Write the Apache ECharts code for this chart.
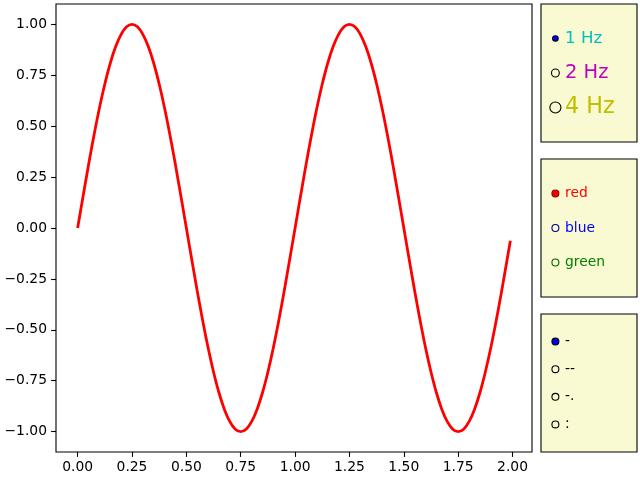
<!DOCTYPE html>
<html>
<head>
<meta charset="utf-8">
<script src="https://cdn.jsdelivr.net/npm/echarts@6/dist/echarts.min.js"></script>
<style>html,body{margin:0;padding:0;background:#fff}#c{width:640px;height:480px}</style>
</head>
<body>
<div id="c"></div>
<script>
// ---- data ----
const tValues = [0,0.025,0.05,0.075,0.1,0.125,0.15,0.175,0.2,0.225,0.25,0.275,0.3,0.325,0.35,0.375,0.4,0.425,0.45,0.475,
  0.5,0.525,0.55,0.575,0.6,0.625,0.65,0.675,0.7,0.725,0.75,0.775,0.8,0.825,0.85,0.875,0.9,0.925,0.95,0.975,
  1,1.025,1.05,1.075,1.1,1.125,1.15,1.175,1.2,1.225,1.25,1.275,1.3,1.325,1.35,1.375,1.4,1.425,1.45,1.475,
  1.5,1.525,1.55,1.575,1.6,1.625,1.65,1.675,1.7,1.725,1.75,1.775,1.8,1.825,1.85,1.875,1.9,1.925,1.95,1.975,1.99];
const sValues = [0,0.156,0.309,0.454,0.588,0.707,0.809,0.891,0.951,0.988,1,0.988,0.951,0.891,0.809,0.707,0.588,0.454,0.309,0.156,
  0,-0.156,-0.309,-0.454,-0.588,-0.707,-0.809,-0.891,-0.951,-0.988,-1,-0.988,-0.951,-0.891,-0.809,-0.707,-0.588,-0.454,-0.309,-0.156,
  0,0.156,0.309,0.454,0.588,0.707,0.809,0.891,0.951,0.988,1,0.988,0.951,0.891,0.809,0.707,0.588,0.454,0.309,0.156,
  0,-0.156,-0.309,-0.454,-0.588,-0.707,-0.809,-0.891,-0.951,-0.988,-1,-0.988,-0.951,-0.891,-0.809,-0.707,-0.588,-0.454,-0.309,-0.156,-0.063];
const xTicks = [0,0.25,0.5,0.75,1,1.25,1.5,1.75,2];
const yTicks = [-1,-0.75,-0.5,-0.25,0,0.25,0.5,0.75,1];
const freqLabels = ['1 Hz','2 Hz','4 Hz'];
const colorLabels = ['red','blue','green'];
const styleLabels = ['-','--','-.',':'];
const freqActive = 0, colorActive = 0, styleActive = 0;

// ---- styles ----
const FONT = 'DejaVu Sans';
const PT = 100/72;
const BG = '#fafad2';
const freqTextColors = ['#00bfbf','#bf00bf','#bfbf00'];
const freqFontPt = [12,14,16];
const freqMarkS = [16,32,64];
const colorTextColors = ['#ff0000','#0000ff','#008000'];
const colorEdge = ['#8b0000','#00008b','#006400'];
const colorFill = ['#ff0000','#0000ff','#008000'];

const fmt = v => (v < 0 ? '\u2212' : '') + Math.abs(v).toFixed(2);

const chart = echarts.init(document.getElementById('c'), null, {renderer:'canvas'});

const panels = [
  {top:4, height:138},
  {top:159, height:138},
  {top:314, height:138}
];

const grids = [{left:56, top:4, width:476, height:448, show:true, borderColor:'#000', borderWidth:1.1, backgroundColor:'#fff', containLabel:false}];
panels.forEach(p => grids.push({left:541, top:p.top, width:96, height:p.height, show:true, backgroundColor:BG, borderColor:'#000', borderWidth:1.1}));

const xAxes = [{
  type:'value', gridIndex:0, min:-0.0995, max:2.0895, position:'bottom',
  axisLine:{show:false, onZero:false}, splitLine:{show:false},
  axisTick:{show:true, inside:false, length:4.9, lineStyle:{color:'#000', width:1.1}, customValues:xTicks},
  axisLabel:{show:true, margin:8, color:'#000', fontFamily:FONT, fontSize:10*PT, formatter:fmt, customValues:xTicks}
}];
const yAxes = [{
  type:'value', gridIndex:0, min:-1.1, max:1.1, position:'left',
  axisLine:{show:false, onZero:false}, splitLine:{show:false},
  axisTick:{show:true, inside:false, length:4.9, lineStyle:{color:'#000', width:1.1}, customValues:yTicks},
  axisLabel:{show:true, margin:9, color:'#000', fontFamily:FONT, fontSize:10*PT, formatter:fmt, customValues:yTicks}
}];
for (let i=1;i<=3;i++){
  xAxes.push({type:'value', gridIndex:i, min:0, max:1, show:false});
  yAxes.push({type:'value', gridIndex:i, min:0, max:1, show:false});
}

function radioPos(n, i){ return 1 - (i+1)/(n+1); }

const series = [{
  type:'line', xAxisIndex:0, yAxisIndex:0,
  data: tValues.map((t,i)=>[t, sValues[i]]),
  showSymbol:false, symbol:'none', smooth:0.35,
  lineStyle:{color:'#ff0000', width:2.8}, silent:true, animation:false
}];

function addPanel(idx, labels, active, markStyle, textStyle){
  const n = labels.length;
  series.push({
    type:'scatter', xAxisIndex:idx, yAxisIndex:idx, animation:false, silent:true,
    itemStyle:{opacity:1},
    data: labels.map((l,i)=>{
      const m = markStyle(i, i===active);
      return {value:[0.15, radioPos(n,i)], symbolSize:m.size, itemStyle:{color:m.fill, borderColor:m.edge, borderWidth:1.1, opacity:1}};
    }),
    symbol:'circle'
  });
  series.push({
    type:'scatter', xAxisIndex:idx, yAxisIndex:idx, animation:false, silent:true,
    symbolSize:0, itemStyle:{opacity:1},
    data: labels.map((l,i)=>{
      const t = textStyle(i);
      return {value:[0.25, radioPos(n,i)], itemStyle:{opacity:1}, label:{show:true, position:'right', distance:0, formatter:l, color:t.color, opacity:1, fontSize:t.size, fontFamily:FONT, align:'left', verticalAlign:'middle'}};
    })
  });
}

addPanel(1, freqLabels, freqActive,
  (i,a)=>({size:Math.sqrt(freqMarkS[i])*PT, fill:a?'#0000ff':BG, edge:'#000'}),
  i=>({color:freqTextColors[i], size:freqFontPt[i]*PT}));
addPanel(2, colorLabels, colorActive,
  (i,a)=>({size:5*PT, fill:a?colorFill[i]:BG, edge:colorEdge[i]}),
  i=>({color:colorTextColors[i], size:10*PT}));
addPanel(3, styleLabels, styleActive,
  (i,a)=>({size:5*PT, fill:a?'#0000ff':BG, edge:'#000'}),
  i=>({color:'#000', size:10*PT}));

chart.setOption({
  animation:false,
  backgroundColor:'#fff',
  grid:grids, xAxis:xAxes, yAxis:yAxes, series:series
});
</script>
</body>
</html>
